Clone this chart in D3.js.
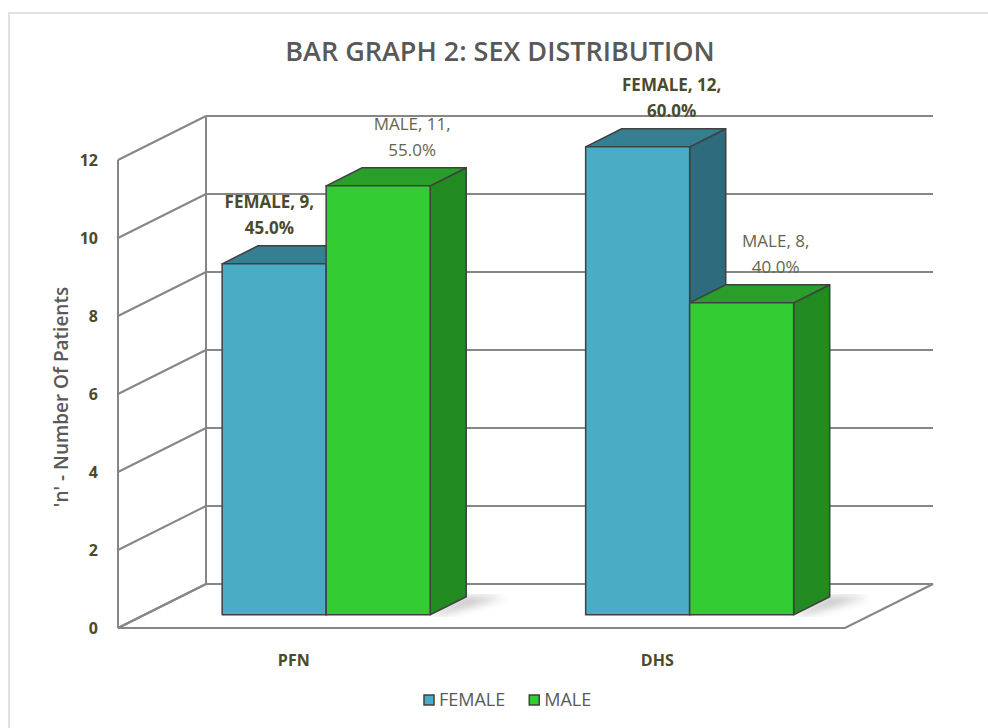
<!DOCTYPE html>
<html>
<head>
<meta charset="utf-8">
<script src="https://cdn.jsdelivr.net/npm/d3@7"></script>
<style>
  html, body { margin: 0; padding: 0; background: #fff; }
  #chart { width: 988px; height: 728px; }
  text { font-family: "Open Sans", sans-serif; }
</style>
</head>
<body>
<div id="chart"></div>
<script>
const categories = ["PFN", "DHS"];
const seriesNames = ["FEMALE", "MALE"];
const femaleValues = [9, 12];
const maleValues = [11, 8];
const yTicks = [0, 2, 4, 6, 8, 10, 12];

const width = 988;
const height = 728;

const svg = d3.select("#chart").append("svg")
  .attr("width", width)
  .attr("height", height);

const colors = {
  FEMALE: { front: "#4bacc6", top: "#367f93", side: "#2e6b7c" },
  MALE: { front: "#33cc33", top: "#299e29", side: "#218a21" }
};

// depth vector of the 3d box (front plane -> back wall)
const DX = 88, DY = -44;
const barDepthStart = 0.3, barDepthEnd = 0.71;

const x0 = d3.scaleBand().domain(categories).range([118, 845]);
const groupWidth = 208;
const x1 = d3.scaleBand().domain(seriesNames)
  .range([(x0.bandwidth() - groupWidth) / 2, (x0.bandwidth() + groupWidth) / 2]);
const y = d3.scaleLinear().domain([0, 12]).range([628, 160]);

const proj = (px, v, depth) => [px + depth * DX, y(v) + depth * DY];

// chart border
svg.append("rect")
  .attr("x", 9).attr("y", 13)
  .attr("width", width + 20).attr("height", height + 20)
  .attr("fill", "none").attr("stroke", "#d9d9d9").attr("stroke-width", 1.5);

const grid = svg.append("g").attr("stroke", "#868686").attr("stroke-width", 2).attr("fill", "none");

const xL = x0.range()[0], xR = x0.range()[1];

// back wall + side wall gridlines
yTicks.forEach(t => {
  const a = proj(xL, t, 1), b = proj(xR, t, 1);
  grid.append("line").attr("x1", a[0]).attr("y1", a[1]).attr("x2", b[0]).attr("y2", b[1]);
  const c = proj(xL, t, 0);
  grid.append("line").attr("x1", c[0]).attr("y1", c[1]).attr("x2", a[0]).attr("y2", a[1]);
});
// wall verticals
[0, 1].forEach(dpt => {
  const a = proj(xL, 0, dpt), b = proj(xL, 12, dpt);
  grid.append("line").attr("x1", a[0]).attr("y1", a[1]).attr("x2", b[0]).attr("y2", b[1]);
});
// floor
const floorPts = [proj(xL, 0, 0), proj(xR, 0, 0), proj(xR, 0, 1), proj(xL, 0, 1)];
grid.append("path").attr("d", "M" + floorPts.join("L") + "Z");

const defs = svg.append("defs");
defs.append("filter").attr("id", "blur")
  .append("feGaussianBlur").attr("stdDeviation", 4);

const bars = [];
categories.forEach((c, i) => {
  [femaleValues[i], maleValues[i]].forEach((v, j) => {
    const s = seriesNames[j];
    bars.push({ cat: c, series: s, value: v, idx: i,
      pct: v / (femaleValues[i] + maleValues[i]) * 100,
      x: x0(c) + x1(s), w: x1.bandwidth() });
  });
});

// soft floor shadows
const shadowG = svg.append("g").attr("filter", "url(#blur)").attr("opacity", 0.35);
categories.forEach(c => {
  const xa = x0(c) + x1.range()[1];
  const p1 = proj(xa, 0, barDepthStart), p2 = proj(xa, 0, barDepthEnd);
  const p3 = proj(xa + 40, 0, barDepthEnd), p4 = proj(xa + 10, 0, barDepthStart);
  shadowG.append("path").attr("d", "M" + [p1, p2, p3, p4].join("L") + "Z").attr("fill", "#555");
});

const barG = svg.append("g").attr("stroke", "#404040").attr("stroke-width", 1.5).attr("stroke-linejoin", "round");
bars.forEach(b => {
  const xa = b.x, xb = b.x + b.w;
  const front = [proj(xa, 0, barDepthStart), proj(xb, 0, barDepthStart), proj(xb, b.value, barDepthStart), proj(xa, b.value, barDepthStart)];
  const top = [proj(xa, b.value, barDepthStart), proj(xb, b.value, barDepthStart), proj(xb, b.value, barDepthEnd), proj(xa, b.value, barDepthEnd)];
  const side = [proj(xb, 0, barDepthStart), proj(xb, 0, barDepthEnd), proj(xb, b.value, barDepthEnd), proj(xb, b.value, barDepthStart)];
  barG.append("path").attr("d", "M" + side.join("L") + "Z").attr("fill", colors[b.series].side);
  barG.append("path").attr("d", "M" + top.join("L") + "Z").attr("fill", colors[b.series].top);
  barG.append("path").attr("d", "M" + front.join("L") + "Z").attr("fill", colors[b.series].front);
});

// data labels
const labelG = svg.append("g").attr("font-size", 17);
bars.forEach((b, k) => {
  const next = bars[k + 1];
  const topFront = proj(b.x, b.value, barDepthStart);
  const topMid = proj(b.x + b.w / 2, b.value, (barDepthStart + barDepthEnd) / 2);
  let cx = topMid[0] + 16;
  const female = b.series === "FEMALE";
  const line1 = `${b.series}, ${b.value},`;
  const line2 = b.pct.toFixed(1) + "%";
  const t = labelG.append("text")
    .attr("text-anchor", "middle")
    .attr("fill", female ? "#4a4a2c" : "#65654c")
    .attr("font-weight", female ? 700 : 400);
  t.append("tspan").attr("x", cx).attr("y", topFront[1] - 56).text(line1);
  t.append("tspan").attr("x", cx).attr("y", topFront[1] - 30).text(line2);
  // keep the label clear of a taller neighbouring bar
  if (next && next.idx === b.idx && next.value > b.value) {
    const bb = t.node().getBBox();
    const limit = proj(next.x, 0, barDepthStart)[0] - 12;
    const shift = bb.x + bb.width - limit;
    if (shift > 0) t.selectAll("tspan").attr("x", cx - shift);
  }
});

// y tick labels
svg.append("g").selectAll("text").data(yTicks).join("text")
  .attr("x", 98).attr("y", d => y(d)).attr("dy", "0.35em")
  .attr("text-anchor", "end").attr("font-size", 16).attr("font-weight", 700)
  .attr("fill", "#4a4a2c").text(d => d);

// category labels
svg.append("g").selectAll("text").data(categories).join("text")
  .attr("x", d => x0(d) + x0.bandwidth() / 2 - 6).attr("y", 666)
  .attr("text-anchor", "middle").attr("font-size", 16).attr("font-weight", 700)
  .attr("fill", "#4a4a2c").text(d => d);

// y axis title
svg.append("text")
  .attr("transform", `translate(68,${y(6) + 3}) rotate(-90)`)
  .attr("text-anchor", "middle").attr("font-size", 19).attr("font-weight", 600)
  .attr("fill", "#595959").text("'n' - Number Of Patients");

// title
svg.append("text")
  .attr("x", 500).attr("y", 61).attr("text-anchor", "middle")
  .attr("font-size", 27).attr("font-weight", 600).attr("fill", "#595959")
  .text("BAR GRAPH 2: SEX DISTRIBUTION");

// legend
const legend = svg.append("g").attr("transform", "translate(424,700)");
let lx = 0;
seriesNames.forEach(s => {
  const g = legend.append("g").attr("transform", `translate(${lx},0)`);
  g.append("rect").attr("x", 0).attr("y", -5).attr("width", 10).attr("height", 10)
    .attr("fill", colors[s].front).attr("stroke", "#404040").attr("stroke-width", 1.5);
  const t = g.append("text").attr("x", 15).attr("y", 0).attr("dy", "0.35em")
    .attr("font-size", 18).attr("fill", "#595959").text(s);
  lx += 15 + t.node().getComputedTextLength() + 24;
});
</script>
</body>
</html>
